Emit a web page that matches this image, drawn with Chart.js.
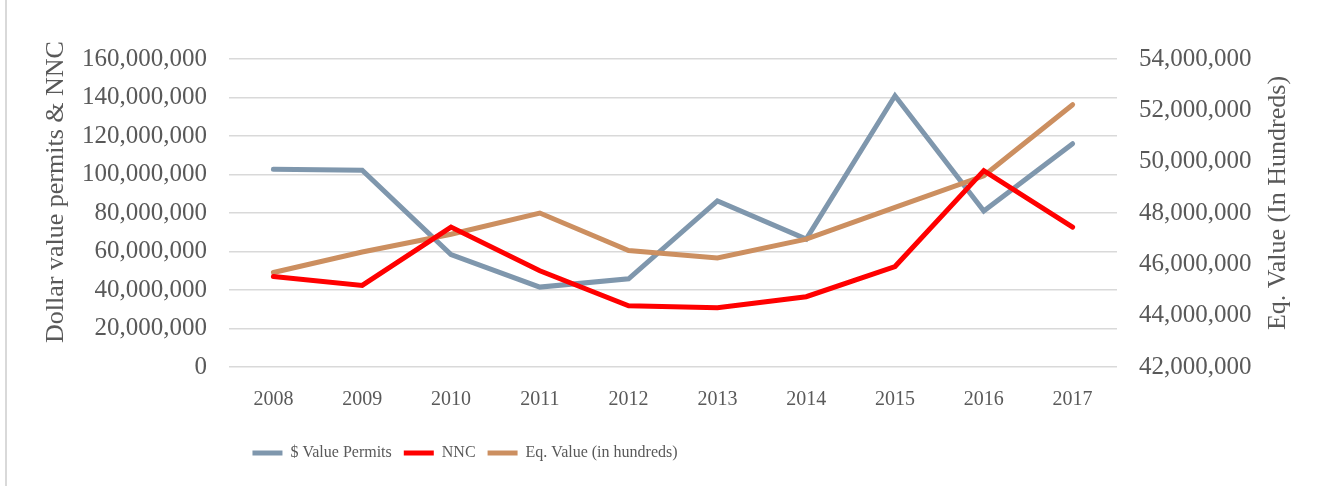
<!DOCTYPE html>
<html lang="en">
<head>
    <meta charset="UTF-8">
    <title>Permits, NNC and Eq. Value</title>
    <script src="https://cdn.jsdelivr.net/npm/chart.js"></script>
    <style>
        html, body { margin: 0; padding: 0; background: #fff; }
        #wrap { width: 1326px; height: 486px; position: relative; }
    </style>
</head>
<body>
<div id="wrap"><canvas id="chart"></canvas></div>

<script>
// data
const years = ['2008', '2009', '2010', '2011', '2012', '2013', '2014', '2015', '2016', '2017'];
const permitValues = [102700000, 102200000, 58400000, 41500000, 45800000, 86300000, 66500000, 140900000, 81000000, 116000000];
const nncValues = [47000000, 42400000, 72700000, 50000000, 31800000, 30800000, 36500000, 52200000, 102000000, 72700000];
const eqValues = [45680000, 46480000, 47170000, 48000000, 46540000, 46250000, 46980000, 48220000, 49450000, 52220000];

const leftTitle = 'Dollar value permits & NNC';
const rightTitle = 'Eq. Value (In Hundreds)';

const textColor = '#595959';
const gridColor = '#d9d9d9';
const serif = "'Liberation Serif', 'Times New Roman', serif";

const fmt = v => Number(v).toLocaleString('en-US');

// frame line + rotated axis titles (both read bottom-to-top like the original)
const decorations = {
    id: 'decorations',
    afterLayout(chart) {
        // the legend sits left of centre in the original
        if (chart.legend) {
            chart.legend.left = 0;
            chart.legend.right = 930;
        }
    },
    beforeDraw(chart) {
        const ctx = chart.ctx;
        ctx.save();
        ctx.fillStyle = '#fff';
        ctx.fillRect(0, 0, chart.width, chart.height);
        ctx.strokeStyle = gridColor;
        ctx.lineWidth = 2;
        ctx.beginPath();
        ctx.moveTo(6, 0);
        ctx.lineTo(6, chart.height);
        ctx.stroke();
        ctx.restore();
    },
    afterDraw(chart) {
        const ctx = chart.ctx;
        ctx.save();
        ctx.fillStyle = textColor;
        ctx.font = '26px ' + serif;
        ctx.textAlign = 'center';
        ctx.textBaseline = 'middle';
        ctx.translate(56, 192);
        ctx.rotate(-Math.PI / 2);
        ctx.fillText(leftTitle, 0, 0);
        ctx.restore();

        ctx.save();
        ctx.fillStyle = textColor;
        ctx.font = '26px ' + serif;
        ctx.textAlign = 'center';
        ctx.textBaseline = 'middle';
        ctx.translate(1278, 203);
        ctx.rotate(-Math.PI / 2);
        ctx.fillText(rightTitle, 0, 0);
        ctx.restore();
    }
};

const ctx = document.getElementById('chart').getContext('2d');
new Chart(ctx, {
    type: 'line',
    data: {
        labels: years,
        datasets: [
            {
                label: '$ Value Permits',
                data: permitValues,
                borderColor: '#7f97ad',
                backgroundColor: '#7f97ad',
                borderWidth: 5,
                borderCapStyle: 'round',
                yAxisID: 'y',
                order: 3
            },
            {
                label: 'NNC',
                data: nncValues,
                borderColor: '#ff0000',
                backgroundColor: '#ff0000',
                borderWidth: 5,
                borderCapStyle: 'round',
                yAxisID: 'y',
                order: 1
            },
            {
                label: 'Eq. Value (in hundreds)',
                data: eqValues,
                borderColor: '#cc8f60',
                backgroundColor: '#cc8f60',
                borderWidth: 5,
                borderCapStyle: 'round',
                yAxisID: 'y1',
                order: 2
            }
        ]
    },
    options: {
        responsive: true,
        maintainAspectRatio: false,
        animation: false,
        layout: { padding: { top: 59, bottom: 15, left: 0, right: 0 } },
        elements: {
            point: { radius: 0, hoverRadius: 0 },
            line: { tension: 0, borderJoinStyle: 'miter' }
        },
        plugins: {
            tooltip: { enabled: false },
            legend: {
                position: 'bottom',
                labels: {
                    color: textColor,
                    font: { family: serif, size: 16 },
                    usePointStyle: true,
                    pointStyle: 'line',
                    pointStyleWidth: 30,
                    boxHeight: 5,
                    padding: 12,
                    sort: (a, b) => a.datasetIndex - b.datasetIndex
                }
            }
        },
        scales: {
            x: {
                offset: true,
                grid: { display: false, drawTicks: false },
                border: { display: false },
                ticks: {
                    color: textColor,
                    font: { family: serif, size: 20 },
                    padding: 21,
                    maxRotation: 0
                },
                afterFit(scale) { scale.height = 66; }
            },
            y: {
                position: 'left',
                min: 0,
                max: 160000000,
                grid: { color: gridColor, lineWidth: 1.5, drawTicks: false },
                border: { display: false },
                ticks: {
                    stepSize: 20000000,
                    color: textColor,
                    font: { family: serif, size: 25 },
                    padding: 22,
                    callback: fmt
                },
                afterFit(scale) { scale.width = 229; }
            },
            y1: {
                position: 'right',
                min: 42000000,
                max: 54000000,
                grid: { display: false, drawTicks: false },
                border: { display: false },
                ticks: {
                    stepSize: 2000000,
                    color: textColor,
                    font: { family: serif, size: 25 },
                    padding: 22,
                    callback: fmt
                },
                afterFit(scale) { scale.width = 209; }
            }
        }
    },
    plugins: [decorations]
});
</script>
</body>
</html>
